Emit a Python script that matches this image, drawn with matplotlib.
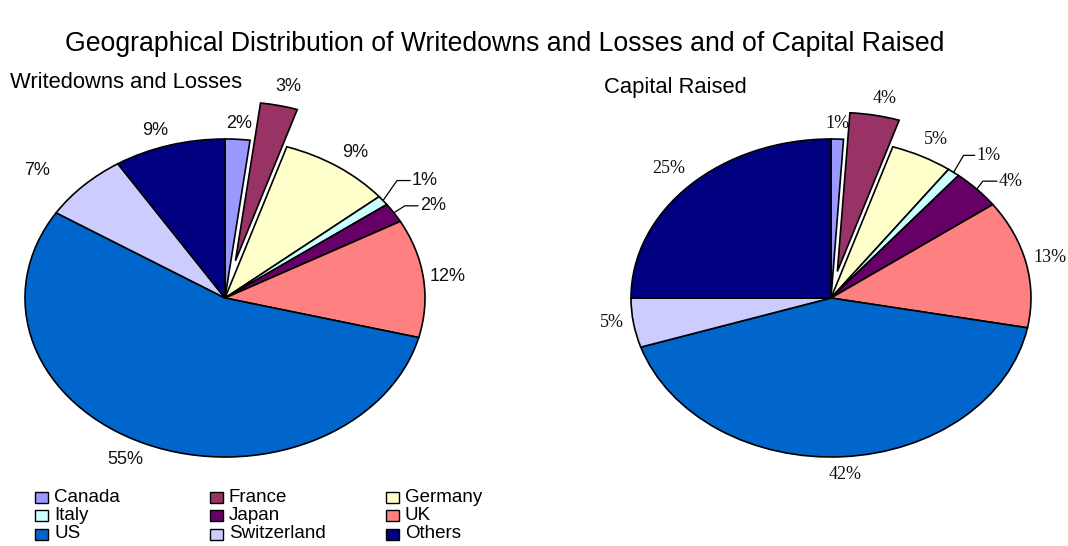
import matplotlib
matplotlib.use('Agg')
import matplotlib.pyplot as plt
import numpy as np
from matplotlib.patches import Rectangle

# ---------------- data ----------------
categories = ['Canada', 'France', 'Germany', 'Italy', 'Japan', 'UK', 'US',
              'Switzerland', 'Others']
writedowns = [2, 3, 9, 1, 2, 12, 55, 7, 9]
capital = [1, 4, 5, 1, 4, 13, 42, 5, 25]

title = 'Geographical Distribution of Writedowns and Losses and of Capital Raised'
left_title = 'Writedowns and Losses'
right_title = 'Capital Raised'

# ---------------- style ----------------
colors = ['#9999FF', '#993366', '#FFFFCC', '#CCFFFF', '#660066', '#FF8080',
          '#0066CC', '#CCCCFF', '#000080']
explode_left = [0, 0.24, 0, 0, 0, 0, 0, 0, 0]
explode_right = [0, 0.17, 0, 0, 0, 0, 0, 0, 0]
# radial factors (x, y) for the percentage labels
lab_rx_left = [1.1, 1.22, 1.16, 0, 0, 1.12, 1.26, 1.33, 1.25]
lab_ry_left = [1.1, 1.12, 1.11, 0, 0, 1.1, 1.11, 1.13, 1.1]
lab_rx_right = [1.1, 1.25, 1.15, 0, 0, 1.12, 1.12, 1.11, 1.15]
lab_ry_right = [1.1, 1.11, 1.12, 0, 0, 1.18, 1.115, 0.97, 1.15]

W, H = 1068, 546
fig = plt.figure(figsize=(W / 100, H / 100), dpi=100)
fig.patch.set_facecolor('white')


def px(x, y):
    return x / W, 1 - y / H


def add_pie(cx, cy, rx, ry, values, explode, lrx, lry, family, fs, leaders):
    ax = fig.add_axes([(cx - rx) / W, (H - cy - ry) / H, 2 * rx / W, 2 * ry / H])
    wedges, _ = ax.pie(values, colors=colors, startangle=90, counterclock=False,
                       explode=explode,
                       wedgeprops=dict(edgecolor='black', linewidth=1.2))
    ax.set_aspect('auto')
    ax.set_xlim(-1, 1)
    ax.set_ylim(-1, 1)
    ax.axis('off')
    for w in wedges:
        w.set_clip_on(False)
    for i, (w, v) in enumerate(zip(wedges, values)):
        a = np.deg2rad((w.theta1 + w.theta2) / 2)
        c, s = np.cos(a), np.sin(a)
        txt = f'{v}%'
        if i in leaders:
            ex, ey, hl = leaders[i]
            x0, y0 = c, s
            x1, y1 = x0 + ex / rx, y0 + ey / ry
            x2 = x1 + hl / rx
            ax.plot([x0, x1, x2], [y0, y1, y1], color='black', lw=0.9,
                    clip_on=False)
            ax.text(x2 + 2 / rx, y1, txt, ha='left', va='center',
                    fontsize=fs, family=family, color='#111111')
        else:
            ax.text((lrx[i] + explode[i]) * c, (lry[i] + explode[i]) * s, txt,
                    ha='center', va='center',
                    fontsize=fs, family=family, color='#111111')
    return ax


add_pie(225, 298, 200, 159, writedowns, explode_left, lab_rx_left, lab_ry_left,
        'Liberation Sans', 13, {3: (14, 20, 13), 4: (11, 7, 13)})
add_pie(831, 298, 200, 159, capital, explode_right, lab_rx_right, lab_ry_right,
        'Liberation Serif', 13, {3: (10, 17, 11), 4: (6, 8, 14)})

fig.text(*px(505, 44), title, ha='center', va='center', fontsize=19.2,
         family='Liberation Sans')
fig.text(*px(10, 82), left_title, ha='left', va='center', fontsize=15.8,
         family='Liberation Sans')
fig.text(*px(604, 88), right_title, ha='left', va='center', fontsize=15.8,
         family='Liberation Sans')

# ---------------- legend (row-wise, 3 columns) ----------------
col_x = [35, 210, 386]
row_y = [497, 515.5, 534]
sq_w, sq_h = 13, 11
for i, (cat, col) in enumerate(zip(categories, colors)):
    r, cidx = divmod(i, 3)
    x, y = col_x[cidx], row_y[r]
    fig.add_artist(Rectangle((x / W, 1 - (y + sq_h / 2) / H), sq_w / W, sq_h / H,
                             transform=fig.transFigure, facecolor=col,
                             edgecolor='black', linewidth=1.0))
    fig.text(*px(x + 19, y), cat, ha='left', va='center', fontsize=13.5,
             family='Liberation Sans')

fig.savefig('out.png', dpi=100)
